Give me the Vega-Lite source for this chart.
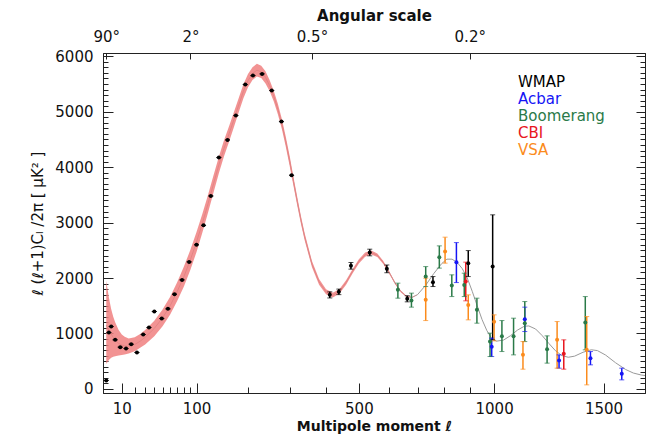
{
  "$schema": "https://vega.github.io/schema/vega-lite/v6.json",
  "width": 542,
  "height": 340,
  "autosize": {"type": "none"},
  "padding": {"left": 103, "top": 53, "right": 8, "bottom": 43},
  "background": "white",
  "config": {
    "font": "DejaVu Sans",
    "view": {"stroke": "#222", "strokeWidth": 1},
    "axis": {"labelFont": "DejaVu Sans", "titleFont": "DejaVu Sans", "labelColor": "#111", "titleColor": "#111", "tickColor": "#222", "domainColor": "#222", "labelFontSize": 15, "titleFontSize": 15, "grid": false, "labelBound": false, "labelFlush": false, "labelOverlap": false},
    "legend": {"orient": "none", "legendX": 400, "legendY": 21, "labelFontSize": 15, "labelFont": "DejaVu Sans", "symbolSize": 0, "symbolOpacity": 0, "symbolStrokeWidth": 0, "labelOffset": 0, "rowPadding": 1, "padding": 0}
  },
  "datasets": {
    "model": [
      {"l": 2, "D": 1150}, {"l": 3, "D": 1060}, {"l": 4, "D": 990}, {"l": 5, "D": 930}, {"l": 6, "D": 880}, {"l": 8, "D": 820}, {"l": 10, "D": 790}, {"l": 12, "D": 775}, {"l": 15, "D": 770}, {"l": 20, "D": 800}, {"l": 25, "D": 860}, {"l": 30, "D": 930}, {"l": 40, "D": 1090}, {"l": 50, "D": 1280}, {"l": 60, "D": 1500}, {"l": 70, "D": 1760}, {"l": 80, "D": 2030}, {"l": 90, "D": 2330}, {"l": 100, "D": 2650}, {"l": 110, "D": 2990}, {"l": 120, "D": 3340}, {"l": 130, "D": 3700}, {"l": 140, "D": 4040}, {"l": 150, "D": 4340}, {"l": 160, "D": 4600}, {"l": 170, "D": 4860}, {"l": 180, "D": 5120}, {"l": 190, "D": 5370}, {"l": 200, "D": 5560}, {"l": 210, "D": 5690}, {"l": 220, "D": 5750}, {"l": 230, "D": 5720}, {"l": 240, "D": 5620}, {"l": 250, "D": 5470}, {"l": 260, "D": 5280}, {"l": 270, "D": 5050}, {"l": 280, "D": 4780}, {"l": 290, "D": 4460}, {"l": 300, "D": 4110}, {"l": 310, "D": 3740}, {"l": 320, "D": 3380}, {"l": 330, "D": 3040}, {"l": 340, "D": 2740}, {"l": 360, "D": 2250}, {"l": 380, "D": 1930}, {"l": 400, "D": 1750}, {"l": 420, "D": 1690}, {"l": 440, "D": 1760}, {"l": 460, "D": 1920}, {"l": 480, "D": 2120}, {"l": 500, "D": 2300}, {"l": 520, "D": 2420}, {"l": 540, "D": 2460}, {"l": 560, "D": 2410}, {"l": 580, "D": 2280}, {"l": 600, "D": 2100}, {"l": 620, "D": 1910}, {"l": 640, "D": 1760}, {"l": 660, "D": 1670}, {"l": 680, "D": 1650}, {"l": 700, "D": 1700}, {"l": 730, "D": 1870}, {"l": 760, "D": 2080}, {"l": 790, "D": 2260}, {"l": 810, "D": 2340}, {"l": 830, "D": 2340}, {"l": 850, "D": 2280}, {"l": 870, "D": 2170}, {"l": 890, "D": 2000}, {"l": 910, "D": 1760}, {"l": 930, "D": 1500}, {"l": 950, "D": 1250}, {"l": 970, "D": 1050}, {"l": 990, "D": 910}, {"l": 1010, "D": 860}, {"l": 1040, "D": 880}, {"l": 1070, "D": 960}, {"l": 1100, "D": 1060}, {"l": 1130, "D": 1130}, {"l": 1150, "D": 1135}, {"l": 1180, "D": 1080}, {"l": 1210, "D": 960}, {"l": 1240, "D": 820}, {"l": 1270, "D": 690}, {"l": 1300, "D": 600}, {"l": 1330, "D": 570}, {"l": 1360, "D": 590}, {"l": 1400, "D": 660}, {"l": 1440, "D": 705}, {"l": 1470, "D": 690}, {"l": 1510, "D": 610}, {"l": 1560, "D": 470}, {"l": 1610, "D": 350}, {"l": 1650, "D": 285}, {"l": 1690, "D": 250}, {"l": 1710, "D": 240}
    ],
    "band": [
      {"l": 2, "lo": 450, "hi": 1950}, {"l": 3, "lo": 520, "hi": 1650}, {"l": 4, "lo": 560, "hi": 1440}, {"l": 5, "lo": 580, "hi": 1300}, {"l": 6, "lo": 590, "hi": 1200}, {"l": 8, "lo": 600, "hi": 1060}, {"l": 10, "lo": 610, "hi": 980}, {"l": 12, "lo": 620, "hi": 940}, {"l": 15, "lo": 640, "hi": 910}, {"l": 20, "lo": 680, "hi": 930}, {"l": 25, "lo": 740, "hi": 990}, {"l": 30, "lo": 800, "hi": 1060}, {"l": 40, "lo": 950, "hi": 1230}, {"l": 50, "lo": 1130, "hi": 1430}, {"l": 60, "lo": 1340, "hi": 1660}, {"l": 70, "lo": 1590, "hi": 1930}, {"l": 80, "lo": 1850, "hi": 2210}, {"l": 90, "lo": 2150, "hi": 2510}, {"l": 100, "lo": 2470, "hi": 2830}, {"l": 110, "lo": 2820, "hi": 3160}, {"l": 120, "lo": 3180, "hi": 3500}, {"l": 130, "lo": 3545, "hi": 3855}, {"l": 140, "lo": 3890, "hi": 4190}, {"l": 150, "lo": 4195, "hi": 4485}, {"l": 160, "lo": 4460, "hi": 4740}, {"l": 170, "lo": 4725, "hi": 4995}, {"l": 180, "lo": 4990, "hi": 5250}, {"l": 190, "lo": 5245, "hi": 5495}, {"l": 200, "lo": 5440, "hi": 5680}, {"l": 210, "lo": 5575, "hi": 5805}, {"l": 220, "lo": 5635, "hi": 5865}, {"l": 230, "lo": 5610, "hi": 5830}, {"l": 240, "lo": 5510, "hi": 5730}, {"l": 250, "lo": 5370, "hi": 5570}, {"l": 260, "lo": 5185, "hi": 5375}, {"l": 270, "lo": 4955, "hi": 5145}, {"l": 280, "lo": 4690, "hi": 4870}, {"l": 290, "lo": 4370, "hi": 4550}, {"l": 300, "lo": 4020, "hi": 4200}, {"l": 310, "lo": 3660, "hi": 3820}, {"l": 320, "lo": 3305, "hi": 3455}, {"l": 330, "lo": 2970, "hi": 3110}, {"l": 340, "lo": 2675, "hi": 2805}, {"l": 360, "lo": 2195, "hi": 2305}, {"l": 380, "lo": 1880, "hi": 1980}, {"l": 400, "lo": 1705, "hi": 1795}, {"l": 420, "lo": 1648, "hi": 1732}, {"l": 440, "lo": 1720, "hi": 1800}, {"l": 460, "lo": 1880, "hi": 1960}, {"l": 480, "lo": 2080, "hi": 2160}, {"l": 500, "lo": 2260, "hi": 2340}, {"l": 520, "lo": 2382, "hi": 2458}, {"l": 540, "lo": 2424, "hi": 2496}, {"l": 560, "lo": 2378, "hi": 2442}, {"l": 580, "lo": 2252, "hi": 2308}, {"l": 600, "lo": 2076, "hi": 2124}, {"l": 620, "lo": 1890, "hi": 1930}, {"l": 640, "lo": 1745, "hi": 1775}, {"l": 660, "lo": 1658, "hi": 1682}, {"l": 680, "lo": 1642, "hi": 1658}, {"l": 700, "lo": 1696, "hi": 1704}
    ],
    "obs": [
      {"exp": "WMAP", "l": 2, "D": 150, "lo": 150, "hi": 150},
      {"exp": "WMAP", "l": 3, "D": 1016, "lo": 1016, "hi": 1016},
      {"exp": "WMAP", "l": 4, "D": 1124, "lo": 1124, "hi": 1124},
      {"exp": "WMAP", "l": 6, "D": 884, "lo": 884, "hi": 884},
      {"exp": "WMAP", "l": 9, "D": 752, "lo": 752, "hi": 752},
      {"exp": "WMAP", "l": 13, "D": 727, "lo": 727, "hi": 727},
      {"exp": "WMAP", "l": 17, "D": 806, "lo": 806, "hi": 806},
      {"exp": "WMAP", "l": 22, "D": 655, "lo": 655, "hi": 655},
      {"exp": "WMAP", "l": 28, "D": 980, "lo": 980, "hi": 980},
      {"exp": "WMAP", "l": 34, "D": 1106, "lo": 1106, "hi": 1106},
      {"exp": "WMAP", "l": 40, "D": 1395, "lo": 1395, "hi": 1395},
      {"exp": "WMAP", "l": 49, "D": 1268, "lo": 1268, "hi": 1268},
      {"exp": "WMAP", "l": 57, "D": 1443, "lo": 1443, "hi": 1443},
      {"exp": "WMAP", "l": 66, "D": 1708, "lo": 1708, "hi": 1708},
      {"exp": "WMAP", "l": 77, "D": 1966, "lo": 1966, "hi": 1966},
      {"exp": "WMAP", "l": 88, "D": 2291, "lo": 2291, "hi": 2291},
      {"exp": "WMAP", "l": 100, "D": 2600, "lo": 2600, "hi": 2600},
      {"exp": "WMAP", "l": 112, "D": 2950, "lo": 2950, "hi": 2950},
      {"exp": "WMAP", "l": 125, "D": 3480, "lo": 3480, "hi": 3480},
      {"exp": "WMAP", "l": 140, "D": 4173, "lo": 4173, "hi": 4173},
      {"exp": "WMAP", "l": 157, "D": 4492, "lo": 4492, "hi": 4492},
      {"exp": "WMAP", "l": 174, "D": 4931, "lo": 4931, "hi": 4931},
      {"exp": "WMAP", "l": 194, "D": 5490, "lo": 5490, "hi": 5490},
      {"exp": "WMAP", "l": 211, "D": 5652, "lo": 5652, "hi": 5652},
      {"exp": "WMAP", "l": 232, "D": 5683, "lo": 5683, "hi": 5683},
      {"exp": "WMAP", "l": 255, "D": 5382, "lo": 5382, "hi": 5382},
      {"exp": "WMAP", "l": 279, "D": 4822, "lo": 4822, "hi": 4822},
      {"exp": "WMAP", "l": 305, "D": 3855, "lo": 3855, "hi": 3855},
      {"exp": "WMAP", "l": 411, "D": 1696, "lo": 1640, "hi": 1750},
      {"exp": "WMAP", "l": 438, "D": 1750, "lo": 1700, "hi": 1800},
      {"exp": "WMAP", "l": 475, "D": 2219, "lo": 2160, "hi": 2280},
      {"exp": "WMAP", "l": 535, "D": 2459, "lo": 2400, "hi": 2520},
      {"exp": "WMAP", "l": 592, "D": 2165, "lo": 2095, "hi": 2235},
      {"exp": "WMAP", "l": 663, "D": 1624, "lo": 1570, "hi": 1680},
      {"exp": "WMAP", "l": 757, "D": 1925, "lo": 1846, "hi": 2026},
      {"exp": "WMAP", "l": 894, "D": 2268, "lo": 2026, "hi": 2495},
      {"exp": "WMAP", "l": 994, "D": 2206, "lo": 884, "hi": 3140},
      {"exp": "Acbar", "l": 847, "D": 2286, "lo": 1918, "hi": 2639},
      {"exp": "Acbar", "l": 990, "D": 758, "lo": 583, "hi": 915},
      {"exp": "Acbar", "l": 1132, "D": 1257, "lo": 1034, "hi": 1474},
      {"exp": "Acbar", "l": 1287, "D": 511, "lo": 373, "hi": 613},
      {"exp": "Acbar", "l": 1436, "D": 554, "lo": 433, "hi": 673},
      {"exp": "Acbar", "l": 1591, "D": 271, "lo": 162, "hi": 373},
      {"exp": "Boomerang", "l": 630, "D": 1786, "lo": 1636, "hi": 1907},
      {"exp": "Boomerang", "l": 678, "D": 1593, "lo": 1474, "hi": 1727},
      {"exp": "Boomerang", "l": 730, "D": 2026, "lo": 1846, "hi": 2206},
      {"exp": "Boomerang", "l": 781, "D": 2376, "lo": 2178, "hi": 2580},
      {"exp": "Boomerang", "l": 829, "D": 1864, "lo": 1665, "hi": 2057},
      {"exp": "Boomerang", "l": 878, "D": 1876, "lo": 1665, "hi": 2087},
      {"exp": "Boomerang", "l": 929, "D": 1425, "lo": 1185, "hi": 1636},
      {"exp": "Boomerang", "l": 983, "D": 853, "lo": 583, "hi": 1005},
      {"exp": "Boomerang", "l": 1033, "D": 950, "lo": 673, "hi": 1232},
      {"exp": "Boomerang", "l": 1083, "D": 950, "lo": 613, "hi": 1275},
      {"exp": "Boomerang", "l": 1132, "D": 1185, "lo": 853, "hi": 1575},
      {"exp": "Boomerang", "l": 1232, "D": 716, "lo": 464, "hi": 956},
      {"exp": "Boomerang", "l": 1411, "D": 1196, "lo": 704, "hi": 1665},
      {"exp": "CBI", "l": 884, "D": 1936, "lo": 1588, "hi": 2286},
      {"exp": "CBI", "l": 1309, "D": 631, "lo": 355, "hi": 884},
      {"exp": "VSA", "l": 730, "D": 1606, "lo": 1232, "hi": 1997},
      {"exp": "VSA", "l": 803, "D": 2477, "lo": 2268, "hi": 2737},
      {"exp": "VSA", "l": 894, "D": 1515, "lo": 1245, "hi": 1696},
      {"exp": "VSA", "l": 1000, "D": 1209, "lo": 866, "hi": 1335},
      {"exp": "VSA", "l": 1124, "D": 613, "lo": 355, "hi": 853},
      {"exp": "VSA", "l": 1278, "D": 884, "lo": 373, "hi": 1214},
      {"exp": "VSA", "l": 1418, "D": 704, "lo": 72, "hi": 1304}
    ]
  },
  "resolve": {"axis": {"x": "independent", "y": "independent"}},
  "layer": [
    {
      "data": {"name": "model"},
      "mark": {"type": "line", "color": "#9a9a9a", "strokeWidth": 1, "clip": true},
      "encoding": {
        "x": {"field": "l", "type": "quantitative", "scale": {"type": "pow", "exponent": 0.6, "domain": [1, 1710], "nice": false, "zero": false},
          "axis": {"orient": "bottom", "title": "Multipole moment ℓ", "titleFontWeight": "bold", "titleFontSize": 14, "titlePadding": -1, "format": "d",
            "values": [10, 20, 30, 40, 50, 60, 70, 80, 90, 100, 200, 300, 400, 500, 600, 700, 800, 900, 1000, 1500],
            "labelExpr": "indexof([10, 100, 500, 1000, 1500], datum.value) >= 0 ? datum.label : ''",
            "tickSize": {"condition": {"test": "indexof([10, 100, 500, 1000, 1500], datum.value) >= 0", "value": -10}, "value": -6},
            "labelPadding": 18}},
        "y": {"field": "D", "type": "quantitative", "scale": {"domain": [-75, 6060], "nice": false, "zero": false},
          "axis": {"orient": "left", "title": "ℓ (ℓ+1)Cₗ /2π [ μK² ]", "titleFontWeight": "normal", "titlePadding": 9, "format": "d",
            "values": [0, 100, 200, 300, 400, 500, 600, 700, 800, 900, 1000, 1100, 1200, 1300, 1400, 1500, 1600, 1700, 1800, 1900, 2000, 2100, 2200, 2300, 2400, 2500, 2600, 2700, 2800, 2900, 3000, 3100, 3200, 3300, 3400, 3500, 3600, 3700, 3800, 3900, 4000, 4100, 4200, 4300, 4400, 4500, 4600, 4700, 4800, 4900, 5000, 5100, 5200, 5300, 5400, 5500, 5600, 5700, 5800, 5900, 6000],
            "labelExpr": "datum.value % 1000 === 0 ? datum.label : ''",
            "tickSize": {"condition": {"test": "datum.value % 1000 === 0", "value": -10}, "value": -5},
            "labelPadding": 20}}
      }
    },
    {
      "data": {"name": "band"},
      "mark": {"type": "area", "color": "#F08080", "opacity": 0.85, "clip": true},
      "encoding": {
        "x": {"field": "l", "type": "quantitative", "scale": {"type": "pow", "exponent": 0.6, "domain": [1, 1710], "nice": false, "zero": false},
          "axis": {"orient": "top", "title": "Angular scale", "titleFontWeight": "bold", "titlePadding": 6,
            "values": [2, 90, 360, 900],
            "labelExpr": "datum.value == 2 ? '90°' : datum.value == 90 ? '2°' : datum.value == 360 ? '0.5°' : '0.2°'",
            "tickSize": -6, "labelPadding": 15}},
        "y": {"field": "lo", "type": "quantitative", "scale": {"domain": [-75, 6060], "nice": false, "zero": false},
          "axis": {"orient": "right", "title": null, "labels": false,
            "values": [0, 100, 200, 300, 400, 500, 600, 700, 800, 900, 1000, 1100, 1200, 1300, 1400, 1500, 1600, 1700, 1800, 1900, 2000, 2100, 2200, 2300, 2400, 2500, 2600, 2700, 2800, 2900, 3000, 3100, 3200, 3300, 3400, 3500, 3600, 3700, 3800, 3900, 4000, 4100, 4200, 4300, 4400, 4500, 4600, 4700, 4800, 4900, 5000, 5100, 5200, 5300, 5400, 5500, 5600, 5700, 5800, 5900, 6000],
            "tickSize": {"condition": {"test": "datum.value % 1000 === 0", "value": -9}, "value": -5}}},
        "y2": {"field": "hi"}
      }
    },
    {
      "data": {"name": "obs"},
      "mark": {"type": "rule", "strokeWidth": 1.5, "clip": true},
      "encoding": {
        "x": {"field": "l", "type": "quantitative", "scale": {"type": "pow", "exponent": 0.6, "domain": [1, 1710], "nice": false, "zero": false}, "axis": null},
        "y": {"field": "lo", "type": "quantitative", "scale": {"domain": [-75, 6060], "nice": false, "zero": false}, "axis": null},
        "y2": {"field": "hi"},
        "color": {"field": "exp", "type": "nominal", "title": null, "scale": {"domain": ["WMAP", "Acbar", "Boomerang", "CBI", "VSA"], "range": ["#000000", "#1515f5", "#2a7a48", "#e8161e", "#fb8b1c"]}}
      }
    },
    {
      "data": {"name": "obs"},
      "mark": {"type": "tick", "orient": "horizontal", "size": 5, "thickness": 1, "clip": true},
      "encoding": {
        "x": {"field": "l", "type": "quantitative", "scale": {"type": "pow", "exponent": 0.6, "domain": [1, 1710], "nice": false, "zero": false}, "axis": null},
        "y": {"field": "lo", "type": "quantitative", "scale": {"domain": [-75, 6060], "nice": false, "zero": false}, "axis": null},
        "color": {"field": "exp", "type": "nominal", "title": null, "scale": {"domain": ["WMAP", "Acbar", "Boomerang", "CBI", "VSA"], "range": ["#000000", "#1515f5", "#2a7a48", "#e8161e", "#fb8b1c"]}}
      }
    },
    {
      "data": {"name": "obs"},
      "mark": {"type": "tick", "orient": "horizontal", "size": 5, "thickness": 1, "clip": true},
      "encoding": {
        "x": {"field": "l", "type": "quantitative", "scale": {"type": "pow", "exponent": 0.6, "domain": [1, 1710], "nice": false, "zero": false}, "axis": null},
        "y": {"field": "hi", "type": "quantitative", "scale": {"domain": [-75, 6060], "nice": false, "zero": false}, "axis": null},
        "color": {"field": "exp", "type": "nominal", "title": null, "scale": {"domain": ["WMAP", "Acbar", "Boomerang", "CBI", "VSA"], "range": ["#000000", "#1515f5", "#2a7a48", "#e8161e", "#fb8b1c"]}}
      }
    },
    {
      "data": {"name": "obs"},
      "mark": {"type": "point", "filled": true, "shape": "circle", "size": 16, "opacity": 1, "clip": true},
      "encoding": {
        "x": {"field": "l", "type": "quantitative", "scale": {"type": "pow", "exponent": 0.6, "domain": [1, 1710], "nice": false, "zero": false}, "axis": null},
        "y": {"field": "D", "type": "quantitative", "scale": {"domain": [-75, 6060], "nice": false, "zero": false}, "axis": null},
        "color": {"field": "exp", "type": "nominal", "title": null, "scale": {"domain": ["WMAP", "Acbar", "Boomerang", "CBI", "VSA"], "range": ["#000000", "#1515f5", "#2a7a48", "#e8161e", "#fb8b1c"]},
          "legend": {"encode": {"labels": {"update": {"fill": {"signal": "scale('color', datum.value)"}}}}}}
      }
    }
  ]
}
